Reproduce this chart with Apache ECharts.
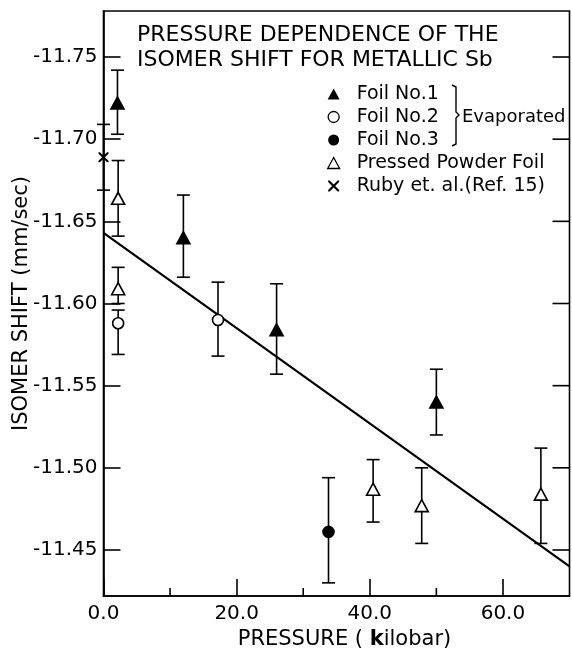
<!DOCTYPE html>
<html>
<head>
<meta charset="utf-8">
<script src="https://cdn.jsdelivr.net/npm/echarts@6/dist/echarts.min.js"></script>
<style>
html,body{margin:0;padding:0;background:#fff;}
#chart{width:572px;height:649px;}
</style>
</head>
<body>
<div id="chart"></div>
<script>
// ---- data ----
const seriesNames = ['Foil No.1', 'Foil No.2', 'Foil No.3', 'Pressed Powder Foil', 'Ruby et. al.(Ref. 15)'];

const foil1X  = [2.1, 12.0, 26.0, 50.0];
const foil1Y  = [-11.722, -11.640, -11.584, -11.540];
const foil1Lo = [-11.742, -11.666, -11.612, -11.560];
const foil1Hi = [-11.703, -11.616, -11.557, -11.520];

const foil2X  = [2.2, 17.2];
const foil2Y  = [-11.588, -11.590];
const foil2Lo = [-11.596, -11.613];
const foil2Hi = [-11.569, -11.568];

const foil3X  = [33.8];
const foil3Y  = [-11.461];
const foil3Lo = [-11.494];
const foil3Hi = [-11.430];

const powderX  = [2.2, 2.2, 40.5, 47.8, 65.7];
const powderY  = [-11.664, -11.609, -11.487, -11.477, -11.484];
const powderLo = [-11.687, -11.622, -11.505, -11.500, -11.512];
const powderHi = [-11.641, -11.600, -11.467, -11.454, -11.454];

const rubyX  = [0.0];
const rubyY  = [-11.689];
const rubyLo = [-11.709];
const rubyHi = [-11.669];

const fitX = [0, 70];
const fitY = [-11.643, -11.440];

const yTicks = [-11.75, -11.70, -11.65, -11.60, -11.55, -11.50, -11.45];
const xMajorTicks = [0, 20, 40, 60];
const xMinorTicks = [10, 30, 50];

const titleLines = ['PRESSURE DEPENDENCE OF THE', 'ISOMER SHIFT FOR METALLIC Sb'];
const xAxisTitle = 'PRESSURE ( {b|k}ilobar)';
const yAxisTitle = 'ISOMER SHIFT (mm/sec)';
const braceLabel = 'Evaporated';

// ---- build ----
// The vertical axis runs from -11.78 at the top to -11.42 at the bottom
// (more negative upward). It is drawn as a normal value axis of the
// negated shift, and its labels show the signed value.
const FONT = 'DejaVu Sans';
const flip = v => -v;
function pts(xs, ys) { return xs.map((x, i) => [x, flip(ys[i])]); }
function errPts(xs, ys, lo, hi) { return xs.map((x, i) => [x, flip(ys[i]), flip(lo[i]), flip(hi[i])]); }

const xMin = 0, xMax = 70;
const yTop = -11.778, yBottom = -11.422;
const yTickInternal = yTicks.map(flip);
const tickStyle = {color: '#000', width: 1.6};

const crossPath = 'path://M0,0 L1.4,0 L5,3.6 L8.6,0 L10,0 L10,1.4 L6.4,5 L10,8.6 L10,10 L8.6,10 L5,6.4 L1.4,10 L0,10 L0,8.6 L3.6,5 L0,1.4 Z';

const groups = [
  {name: seriesNames[0], x: foil1X, y: foil1Y, lo: foil1Lo, hi: foil1Hi, symbol: 'triangle', size: [13, 12], fill: '#000'},
  {name: seriesNames[1], x: foil2X, y: foil2Y, lo: foil2Lo, hi: foil2Hi, symbol: 'circle', size: 11, fill: '#fff'},
  {name: seriesNames[2], x: foil3X, y: foil3Y, lo: foil3Lo, hi: foil3Hi, symbol: 'circle', size: 11, fill: '#000'},
  {name: seriesNames[3], x: powderX, y: powderY, lo: powderLo, hi: powderHi, symbol: 'triangle', size: [13, 12], fill: '#fff'},
  {name: seriesNames[4], x: rubyX, y: rubyY, lo: rubyLo, hi: rubyHi, symbol: crossPath, size: 10, fill: '#000'}
];

const series = [];
groups.forEach(g => {
  series.push({
    type: 'custom',
    name: g.name + ' err',
    xAxisIndex: 0, yAxisIndex: 0,
    z: 2,
    clip: false,
    silent: true,
    data: errPts(g.x, g.y, g.lo, g.hi),
    renderItem: function (params, api) {
      const x = api.value(0);
      const a = api.coord([x, api.value(2)]);
      const b = api.coord([x, api.value(3)]);
      const hw = 6.5;
      const st = {stroke: '#000', lineWidth: 1.6};
      return {
        type: 'group',
        children: [
          {type: 'line', shape: {x1: a[0], y1: a[1], x2: b[0], y2: b[1]}, style: st},
          {type: 'line', shape: {x1: a[0] - hw, y1: a[1], x2: a[0] + hw, y2: a[1]}, style: st},
          {type: 'line', shape: {x1: b[0] - hw, y1: b[1], x2: b[0] + hw, y2: b[1]}, style: st}
        ]
      };
    }
  });
});
groups.forEach(g => {
  const isCross = g.symbol === crossPath;
  series.push({
    type: 'scatter',
    name: g.name,
    xAxisIndex: 0, yAxisIndex: 0,
    z: 4,
    symbol: g.symbol,
    symbolSize: g.size,
    itemStyle: {color: g.fill, borderColor: '#000', borderWidth: isCross ? 0 : 1.6, opacity: 1},
    data: pts(g.x, g.y)
  });
});
series.push({
  type: 'line',
  name: 'fit',
  xAxisIndex: 0, yAxisIndex: 0,
  z: 3,
  symbol: 'none',
  lineStyle: {color: '#000', width: 2.2},
  data: pts(fitX, fitY)
});
// short inward ticks at 10, 30, 50 on the pressure axis
series.push({
  type: 'custom',
  name: 'x minor ticks',
  xAxisIndex: 0, yAxisIndex: 0,
  z: 5, clip: false, silent: true,
  data: xMinorTicks.map(v => [v, flip(yBottom)]),
  renderItem: function (params, api) {
    const p = api.coord([api.value(0), api.value(1)]);
    return {type: 'line', shape: {x1: p[0], y1: p[1], x2: p[0], y2: p[1] - 8},
            style: {stroke: '#000', lineWidth: 1.6}};
  }
});
// inward ticks on the right-hand frame
series.push({
  type: 'custom',
  name: 'right ticks',
  xAxisIndex: 0, yAxisIndex: 0,
  z: 5, clip: false, silent: true,
  data: yTickInternal.map(v => [xMax, v]),
  renderItem: function (params, api) {
    const p = api.coord([api.value(0), api.value(1)]);
    return {type: 'line', shape: {x1: p[0], y1: p[1], x2: p[0] - 17, y2: p[1]},
            style: {stroke: '#000', lineWidth: 1.6}};
  }
});

const legendData = groups.map(g => ({
  name: g.name,
  icon: g.symbol,
  itemStyle: {color: g.fill, borderColor: '#000', borderWidth: (g.symbol === crossPath || g.fill === '#000') ? 0 : 1.3}
}));

const option = {
  backgroundColor: '#fff',
  animation: false,
  textStyle: {fontFamily: FONT, color: '#000'},
  title: {
    text: titleLines.join('\n'),
    left: 137, top: 23, padding: 0,
    textStyle: {fontFamily: FONT, fontSize: 22, fontWeight: 'normal', color: '#000', lineHeight: 25}
  },
  legend: {
    orient: 'vertical',
    left: 327, top: 83, padding: 0,
    itemWidth: 12, itemHeight: 11,
    itemGap: 1,
    data: legendData,
    selectedMode: false,
    textStyle: {fontFamily: FONT, fontSize: 19, color: '#000', lineHeight: 22, padding: [0, 0, 0, 12]}
  },
  grid: {
    left: 103.5, right: 2.5, top: 11, bottom: 53,
    show: true, borderColor: '#000', borderWidth: 1.6, backgroundColor: 'transparent',
    containLabel: false, outerBoundsMode: 'none'
  },
  xAxis: {
    type: 'value', min: xMin, max: xMax, position: 'bottom',
    axisLine: {show: true, onZero: false, lineStyle: tickStyle},
    axisTick: {show: true, inside: true, length: 17, lineStyle: tickStyle, customValues: xMajorTicks},
    axisLabel: {fontFamily: FONT, fontSize: 20, color: '#000', margin: 8,
                customValues: xMajorTicks, formatter: v => v.toFixed(1)},
    splitLine: {show: false},
    name: xAxisTitle, nameLocation: 'middle', nameGap: 33,
    nameTextStyle: {fontFamily: FONT, fontSize: 21, color: '#000', padding: [0, 0, 0, 16],
                    rich: {b: {fontFamily: FONT, fontSize: 21, fontWeight: 'bold', color: '#000'}}}
  },
  yAxis: {
    type: 'value', min: flip(yBottom), max: flip(yTop), position: 'left',
    splitLine: {show: false},
    axisLine: {show: true, onZero: false, lineStyle: tickStyle},
    axisTick: {show: true, inside: true, length: 17, lineStyle: tickStyle, customValues: yTickInternal},
    axisLabel: {fontFamily: FONT, fontSize: 20, color: '#000', margin: 6,
                customValues: yTickInternal, formatter: v => flip(v).toFixed(2)},
    name: yAxisTitle, nameLocation: 'middle', nameGap: 71, nameRotate: 90, nameMoveOverlap: false,
    nameTextStyle: {fontFamily: FONT, fontSize: 21, color: '#000'}
  },
  graphic: [
    {
      type: 'polyline',
      shape: {points: [[452, 85], [456, 87], [456, 112], [459, 115], [456, 118], [456, 144], [452, 146]]},
      style: {stroke: '#000', lineWidth: 1.4, fill: null}
    },
    {
      type: 'text', left: 462, top: 108,
      style: {text: braceLabel, font: '18px "DejaVu Sans"', fill: '#000'}
    }
  ],
  series: series
};

const chart = echarts.init(document.getElementById('chart'), null, {renderer: 'canvas'});
chart.setOption(option);
</script>
</body>
</html>
